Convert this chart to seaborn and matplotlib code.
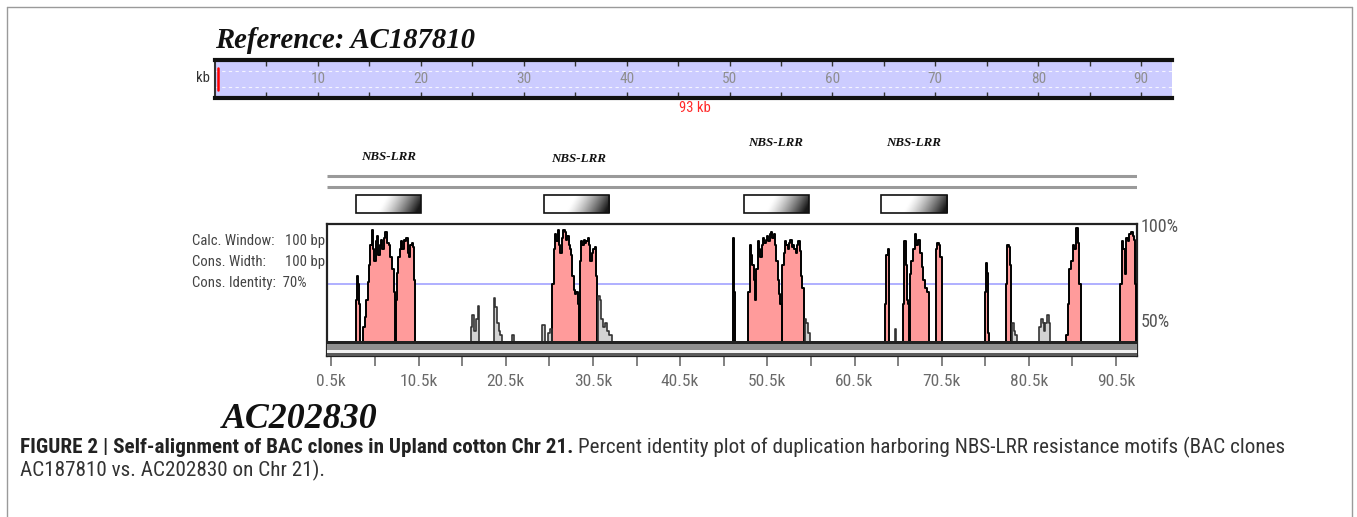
import numpy as np
import pandas as pd
import matplotlib
matplotlib.use("Agg")
import matplotlib.pyplot as plt
import seaborn as sns
from matplotlib import font_manager as fm
from matplotlib.patches import Rectangle
from matplotlib.lines import Line2D
import matplotlib.transforms as mtransforms

# ---------------- data ----------------
genome_len_kb = 93
ruler_labels_kb = [10, 20, 30, 40, 50, 60, 70, 80, 90]
pip_xmax_kb = 92.9
pip_tick_kb = [0.5, 10.5, 20.5, 30.5, 40.5, 50.5, 60.5, 70.5, 80.5, 90.5]
pip_tick_labels = ["0.5k", "10.5k", "20.5k", "30.5k", "40.5k", "50.5k",
                   "60.5k", "70.5k", "80.5k", "90.5k"]
pip_minor_kb = [5.5, 15.5, 25.5, 35.5, 45.5, 55.5, 65.5, 75.5, 85.5]
cons_identity = 70

nbs_start_kb = [3.3, 24.9, 47.8, 63.5]
nbs_end_kb = [10.75, 32.4, 55.25, 71.1]
nbs_label_kb = [7.1, 28.8, 51.4, 67.3]
nbs_label = "NBS-LRR"

# percent-identity profile, one list per aligned block
prof_kb = [
    [3.30, 3.40, 3.55, 3.64],
    [4.13, 4.32, 4.51, 4.67, 4.82, 4.97, 5.12, 5.28, 5.43, 5.58, 5.74, 5.89,
     6.04, 6.20, 6.35, 6.50, 6.69, 6.88, 7.07, 7.27, 7.46, 7.65],
    [7.88, 8.03, 8.18, 8.34, 8.49, 8.64, 8.80, 8.95, 9.10, 9.25, 9.40, 9.56,
     9.71, 9.87, 10.02],
    [16.52, 16.67, 16.83, 17.13, 17.28],
    [19.12, 19.31, 19.50, 19.69, 19.89],
    [21.26],
    [24.71],
    [25.36, 25.55],
    [25.78, 26.01, 26.17, 26.32, 26.47, 26.63, 26.78, 26.93, 27.08, 27.24,
     27.39, 27.54, 27.70, 27.85, 28.00, 28.15, 28.31, 28.46, 28.61, 28.77],
    [29.00, 29.15, 29.30, 29.46, 29.61, 29.76, 29.91, 30.07, 30.22, 30.37,
     30.53, 30.68, 30.83],
    [31.10, 31.29, 31.48, 31.67, 31.86, 32.06, 32.36],
    [46.55, 46.63],
    [48.31, 48.46, 48.61, 48.77, 48.92, 49.07, 49.23, 49.38, 49.53, 49.69,
     49.84, 49.99, 50.14, 50.30, 50.45, 50.60, 50.76, 50.91, 51.06, 51.22,
     51.37, 51.52, 51.67, 51.83, 51.98],
    [52.21, 52.36, 52.52, 52.67, 52.82, 52.97, 53.13, 53.28, 53.43, 53.59,
     53.74, 53.89, 54.05, 54.20, 54.35, 54.50],
    [54.77, 54.96, 55.15],
    [63.95, 64.14, 64.29],
    [65.10],
    [66.10, 66.20, 66.35, 66.50, 66.65],
    [66.85, 67.00, 67.20, 67.45, 67.60, 67.80, 68.00, 68.20, 68.40, 68.60, 68.80],
    [69.84, 70.00, 70.20, 70.35],
    [75.51, 75.59, 75.74, 75.85],
    [77.88, 78.03, 78.19, 78.34],
    [78.57, 78.76, 78.95],
    [81.70, 81.90, 82.09, 82.24, 82.39, 82.58, 82.78],
    [84.76, 84.95, 85.15, 85.34, 85.53, 85.72, 85.91, 86.10, 86.29],
    [91.00, 91.15, 91.34, 91.49, 91.65, 91.84, 92.03, 92.22, 92.41, 92.60, 92.72],
]
prof_pct = [
    [62, 74, 70, 60],
    [48, 53, 62, 71, 80, 90, 98, 88, 82, 92, 95, 85, 90, 93, 88, 94, 97, 91,
     90, 84, 78, 66],
    [62, 76, 84, 88, 92, 88, 93, 92, 94, 86, 84, 90, 91, 89, 72],
    [48, 54, 46, 52, 59],
    [63, 58, 50, 46, 44],
    [44],
    [49],
    [45, 47],
    [70, 88, 96, 92, 98, 90, 86, 94, 98, 97, 93, 95, 90, 88, 85, 74, 67, 65, 66, 60],
    [82, 92, 90, 93, 91, 92, 94, 90, 82, 86, 88, 89, 74],
    [64, 62, 52, 48, 50, 46, 44],
    [94, 66],
    [66, 90, 85, 80, 72, 62, 78, 92, 88, 84, 90, 94, 91, 93, 95, 92, 96, 97,
     94, 96, 90, 82, 72, 65, 60],
    [80, 86, 92, 90, 88, 91, 93, 89, 90, 88, 86, 90, 92, 87, 74, 68],
    [52, 50, 45],
    [60, 85, 88],
    [47],
    [60, 92, 80, 62, 60],
    [75, 82, 88, 96, 90, 93, 86, 79, 72, 68, 66],
    [88, 91, 90, 84],
    [66, 81, 76, 45],
    [70, 90, 89, 80],
    [50, 46, 44],
    [48, 52, 50, 46, 50, 54, 50],
    [44, 60, 78, 82, 90, 88, 99, 91, 70],
    [70, 92, 88, 75, 94, 92, 96, 97, 95, 93, 70],
]
block_end_kb = [3.82, 7.83, 10.14, 17.40, 20.08, 21.45, 24.98, 25.78, 28.88,
                30.98, 32.63, 46.80, 52.13, 54.66, 55.42, 64.45, 65.29, 66.80,
                69.05, 70.50, 75.97, 78.49, 79.10, 82.93, 86.45, 92.83]
block_kind = ["exon", "exon", "exon", "other", "other", "other", "other",
              "other", "exon", "exon", "other", "exon", "exon", "exon", "other",
              "exon", "other", "exon", "exon", "exon", "exon", "exon", "other",
              "other", "exon", "exon"]

caption_bold = "FIGURE 2 | Self-alignment of BAC clones in Upland cotton Chr 21."
caption_rest = ("Percent identity plot of duplication harboring NBS-LRR resistance "
                "motifs (BAC clones")
caption_line2 = "AC187810 vs. AC202830 on Chr 21)."

# ---------------- style / fonts ----------------
sns.set_style("white")
names = {f.name for f in fm.fontManager.ttflist}
NARROW = next((n for n in ["Liberation Sans Narrow", "Roboto Condensed",
                           "Liberation Sans"] if n in names), "DejaVu Sans")
SERIF = "Liberation Serif" if "Liberation Serif" in names else "DejaVu Serif"
plt.rcParams["font.family"] = [NARROW, "DejaVu Sans"]

W, H = 1357, 517
fig = plt.figure(figsize=(W / 100, H / 100), dpi=100)
renderer = fig.canvas.get_renderer()


def px_axes(x0, y0, x1, y1):
    return fig.add_axes([x0 / W, 1 - y1 / H, (x1 - x0) / W, (y1 - y0) / H])


def ftext(x, y, s, **kw):
    return fig.text(x / W, 1 - y / H, s, **kw)


def fit_width(t, target):
    for _ in range(2):
        w = t.get_window_extent(renderer).width
        t.set_fontsize(t.get_fontsize() * target / w)
    return t.get_fontsize()


# outer frame
for xs, ys in [([7, 7], [7, H]), ([7, 1352], [7, 7]), ([1352, 1352], [7, H])]:
    fig.add_artist(Line2D([x / W for x in xs], [1 - y / H for y in ys],
                          transform=fig.transFigure, color="#9a9a9a", lw=1))

# ---------------- titles ----------------
t = ftext(215, 48, "Reference: AC187810", family=SERIF, weight="bold",
          style="italic", va="baseline", ha="left", size=20, color="#111")
fit_width(t, 261)
t = ftext(222, 428, "AC202830", family=SERIF, weight="bold", style="italic",
          va="baseline", ha="left", size=24, color="#111")
fit_width(t, 156)

# ---------------- ruler ----------------
ax_r = px_axes(215, 60, 1172, 98)
ax_r.set_facecolor("#ccccff")
ax_r.set_xlim(0, genome_len_kb)
ax_r.set_ylim(0, 1)
ax_r.set_xticks([])
ax_r.set_yticks([])
for s in ["top", "bottom"]:
    ax_r.spines[s].set_linewidth(3)
    ax_r.spines[s].set_color("#111")
ax_r.spines["left"].set_linewidth(1.5)
ax_r.spines["left"].set_color("#333")
ax_r.spines["right"].set_visible(False)
for yy in [0.28, 0.72]:
    ax_r.axhline(yy, color="white", lw=0.8, ls=(0, (3, 3)), alpha=0.8)
for k in range(5, genome_len_kb, 5):
    ax_r.vlines(k, 0.84, 1.0, color="#333", lw=1)
    ax_r.vlines(k, 0.0, 0.16, color="#333", lw=1)
ax_r.axvline(0.3, ymin=0.2, ymax=0.8, color="red", lw=1.8)
for k in ruler_labels_kb:
    ax_r.text(k, 0.5, str(k), ha="center", va="center", color="#8f8f8f",
              size=11, family=[NARROW, "DejaVu Sans"])
ftext(196, 78, "kb", ha="left", va="center", color="#333", size=10.5)
ftext(695, 108, f"{genome_len_kb} kb", ha="center", va="center",
      color="#ff2a2a", size=10.5)

# ---------------- annotation track ----------------
ax_a = px_axes(327, 130, 1137, 222)
ax_a.set_xlim(0, pip_xmax_kb)
ax_a.set_ylim(222, 130)
ax_a.axis("off")
ax_a.hlines([176, 187], 0, pip_xmax_kb, color="#9a9a9a", lw=2.2)
gx = np.linspace(0, 1, 200)[None, :]
gy = np.linspace(0, 1, 24)[:, None]
grad = np.clip((gx - 0.4) / 0.6 + 0.25 * (gy - 0.5), 0, 1) ** 1.3 * 0.9
label_y = [160, 162, 146, 146]
for s, e, lk, ly in zip(nbs_start_kb, nbs_end_kb, nbs_label_kb, label_y):
    ax_a.imshow(grad, extent=[s, e, 213, 195], aspect="auto", cmap="gray_r",
                vmin=0, vmax=1, zorder=2, interpolation="bilinear")
    ax_a.add_patch(Rectangle((s, 195), e - s, 18, fill=False, ec="#111",
                             lw=1.2, zorder=3))
    tl = ax_a.text(lk, ly, nbs_label, ha="center", va="baseline", family=SERIF,
                   weight="bold", style="italic", size=9, color="#111")
    fit_width(tl, 55)
ax_a.set_xlim(0, pip_xmax_kb)
ax_a.set_ylim(222, 130)

# ---------------- PIP panel ----------------
base = 40.7
ax = px_axes(327, 224, 1137, 356)
ax.set_xlim(0, pip_xmax_kb)
ax.set_ylim(33.0, 101.0)
ax.axhline(cons_identity, color="#a9a9ff", lw=1.3, zorder=1)

rows = []
for i, (kb, pc) in enumerate(zip(prof_kb, prof_pct)):
    xs = [kb[0]] + list(kb) + [block_end_kb[i]]
    ys = [base] + list(pc) + [base]
    for x, y in zip(xs, ys):
        rows.append({"block": i, "kb": x, "pct": y, "kind": block_kind[i]})
    fcol = "#ff9b9b" if block_kind[i] == "exon" else "#d2d2d2"
    ax.fill_between(xs, base, ys, step="post", color=fcol, lw=0, zorder=2)
df = pd.DataFrame(rows)
sns.lineplot(data=df[df.kind == "exon"], x="kb", y="pct", units="block",
             estimator=None, sort=False, drawstyle="steps-post", color="black",
             lw=1.4, ax=ax, zorder=3)
sns.lineplot(data=df[df.kind == "other"], x="kb", y="pct", units="block",
             estimator=None, sort=False, drawstyle="steps-post", color="#333",
             lw=1.2, ax=ax, zorder=3)

# striped bar beneath
ax.axhspan(39.3, base, color="#222", lw=0, zorder=4)
ax.axhspan(35.9, 39.3, color="#909090", lw=0, zorder=4)
ax.axhspan(34.5, 35.9, color="#f0f0f0", lw=0, zorder=4)
ax.axhspan(33.0, 34.5, color="#5a5a5a", lw=0, zorder=4)

ax.set_xlabel("")
ax.set_ylabel("")
ax.set_yticks([])
ax.set_xticks(pip_tick_kb)
ax.set_xticklabels(pip_tick_labels)
ax.set_xticks(pip_minor_kb, minor=True)
ax.tick_params(axis="x", which="both", bottom=True, direction="out", length=7,
               width=1.3, color="#777", labelcolor="#6a6a6a", labelsize=12.5,
               pad=6)
for s in ax.spines.values():
    s.set_color("#222")
    s.set_linewidth(1.6)

trans = mtransforms.blended_transform_factory(ax.transAxes, ax.transData)
ax.text(1.004, 99.2, "100%", transform=trans, ha="left", va="center",
        color="#555", size=13)
ax.text(1.004, 50.5, "50%", transform=trans, ha="left", va="center",
        color="#555", size=13)

# left parameter labels
t1 = ftext(192, 245, "Calc. Window:", ha="left", va="baseline", color="#444",
           size=13)
lfs = fit_width(t1, 82)
ftext(285, 245, "100 bp", ha="left", va="baseline", color="#444", size=lfs)
ftext(192, 266, "Cons. Width:", ha="left", va="baseline", color="#444", size=lfs)
ftext(285, 266, "100 bp", ha="left", va="baseline", color="#444", size=lfs)
ftext(192, 287, "Cons. Identity:  70%", ha="left", va="baseline", color="#444",
      size=lfs)

# ---------------- caption ----------------
cb = ftext(20, 453, caption_bold, ha="left", va="baseline", weight="bold",
           color="#222", size=12)
cr = ftext(20, 453, caption_rest, ha="left", va="baseline", color="#333",
           size=12)
gap = 5
for _ in range(2):
    wb = cb.get_window_extent(renderer).width
    wr = cr.get_window_extent(renderer).width
    sc = (1270 - gap) / (wb + wr)
    cb.set_fontsize(cb.get_fontsize() * sc)
    cr.set_fontsize(cr.get_fontsize() * sc)
wb = cb.get_window_extent(renderer).width
cr.set_x((20 + wb + gap) / W)
ftext(20, 476, caption_line2, ha="left", va="baseline", color="#333",
      size=cr.get_fontsize())

fig.savefig("out.png", dpi=100)
